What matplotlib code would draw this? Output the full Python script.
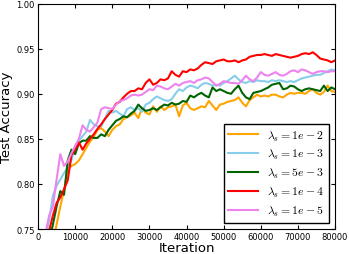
import matplotlib
matplotlib.use('Agg')
import matplotlib.pyplot as plt
import numpy as np

# iterations: every 1000 from 2000 to 80000
iters = np.arange(2000, 80001, 1000)

acc_1e2 = [0.700, 0.720, 0.735, 0.755, 0.775, 0.793, 0.816, 0.820, 0.822, 0.826,
           0.833, 0.840, 0.847, 0.852, 0.860, 0.862, 0.858, 0.853, 0.860, 0.864,
           0.866, 0.872, 0.874, 0.876, 0.879, 0.873, 0.884, 0.879, 0.877, 0.886,
           0.880, 0.886, 0.882, 0.885, 0.886, 0.888, 0.875, 0.887, 0.890, 0.884,
           0.882, 0.884, 0.886, 0.885, 0.892, 0.887, 0.882, 0.888, 0.889, 0.891,
           0.892, 0.893, 0.896, 0.890, 0.886, 0.893, 0.896, 0.899, 0.897, 0.898,
           0.897, 0.899, 0.899, 0.897, 0.896, 0.899, 0.901, 0.900, 0.901, 0.901,
           0.900, 0.903, 0.905, 0.901, 0.899, 0.902, 0.909, 0.903, 0.902]
acc_1e3 = [0.740, 0.760, 0.787, 0.798, 0.805, 0.812, 0.818, 0.826, 0.842, 0.848,
           0.853, 0.858, 0.871, 0.866, 0.864, 0.864, 0.872, 0.881, 0.879, 0.881,
           0.878, 0.875, 0.883, 0.885, 0.882, 0.884, 0.880, 0.888, 0.890, 0.894,
           0.897, 0.895, 0.893, 0.892, 0.894, 0.900, 0.905, 0.903, 0.907, 0.909,
           0.908, 0.906, 0.910, 0.912, 0.911, 0.909, 0.910, 0.909, 0.912, 0.914,
           0.917, 0.920, 0.916, 0.913, 0.912, 0.914, 0.913, 0.915, 0.914, 0.914,
           0.913, 0.915, 0.914, 0.915, 0.914, 0.913, 0.914, 0.913, 0.915, 0.917,
           0.918, 0.919, 0.920, 0.921, 0.921, 0.923, 0.925, 0.927, 0.926]
acc_5e3 = [0.720, 0.735, 0.755, 0.775, 0.792, 0.788, 0.826, 0.838, 0.833, 0.845,
           0.848, 0.848, 0.853, 0.851, 0.851, 0.855, 0.853, 0.860, 0.865, 0.870,
           0.872, 0.875, 0.874, 0.878, 0.881, 0.888, 0.884, 0.881, 0.882, 0.884,
           0.882, 0.885, 0.888, 0.887, 0.890, 0.888, 0.889, 0.892, 0.891, 0.898,
           0.896, 0.899, 0.901, 0.898, 0.896, 0.907, 0.903, 0.905, 0.903, 0.901,
           0.900, 0.905, 0.909, 0.901, 0.896, 0.894, 0.901, 0.902, 0.903, 0.905,
           0.907, 0.910, 0.911, 0.912, 0.905, 0.906, 0.909, 0.908, 0.905, 0.903,
           0.905, 0.906, 0.905, 0.904, 0.903, 0.909, 0.903, 0.907, 0.905]
acc_1e4 = [0.720, 0.748, 0.765, 0.779, 0.785, 0.794, 0.804, 0.832, 0.838, 0.846,
           0.838, 0.845, 0.850, 0.855, 0.861, 0.866, 0.872, 0.877, 0.882, 0.889,
           0.891, 0.896, 0.900, 0.903, 0.903, 0.906, 0.905, 0.912, 0.916, 0.910,
           0.912, 0.916, 0.915, 0.917, 0.925, 0.921, 0.919, 0.925, 0.924, 0.927,
           0.926, 0.928, 0.932, 0.935, 0.934, 0.933, 0.936, 0.937, 0.938, 0.936,
           0.936, 0.937, 0.935, 0.937, 0.938, 0.941, 0.942, 0.943, 0.943, 0.944,
           0.943, 0.942, 0.944, 0.943, 0.942, 0.941, 0.940, 0.941, 0.942, 0.944,
           0.945, 0.944, 0.946, 0.943, 0.939, 0.938, 0.937, 0.935, 0.937]
acc_1e5 = [0.745, 0.765, 0.775, 0.805, 0.833, 0.820, 0.825, 0.834, 0.842, 0.850,
           0.865, 0.860, 0.858, 0.863, 0.868, 0.883, 0.885, 0.884, 0.883, 0.888,
           0.892, 0.893, 0.895, 0.898, 0.899, 0.898, 0.899, 0.902, 0.905, 0.904,
           0.909, 0.908, 0.906, 0.905, 0.908, 0.911, 0.909, 0.912, 0.913, 0.914,
           0.912, 0.915, 0.916, 0.918, 0.917, 0.913, 0.909, 0.911, 0.914, 0.913,
           0.912, 0.912, 0.911, 0.915, 0.920, 0.916, 0.914, 0.918, 0.924, 0.921,
           0.920, 0.922, 0.924, 0.921, 0.920, 0.922, 0.925, 0.926, 0.924, 0.927,
           0.926, 0.924, 0.922, 0.924, 0.925, 0.925, 0.924, 0.925, 0.925]

labels = [r'$\lambda_s=1e-2$', r'$\lambda_s=1e-3$', r'$\lambda_s=5e-3$',
          r'$\lambda_s=1e-4$', r'$\lambda_s=1e-5$']
colors = ['orange', 'skyblue', 'darkgreen', 'red', 'violet']
series = [acc_1e2, acc_1e3, acc_5e3, acc_1e4, acc_1e5]

plt.rcParams['mathtext.fontset'] = 'cm'
fig = plt.figure(figsize=(3.49, 2.55), dpi=100)
ax = fig.add_axes([0.109, 0.098, 0.851, 0.884])
for y, c, l in zip(series, colors, labels):
    ax.plot(iters, y, color=c, lw=1.5, label=l)

ax.set_xlim(0, 80000)
ax.set_ylim(0.75, 1.0)
ax.set_xticks(range(0, 80001, 10000))
ax.set_yticks([0.75, 0.80, 0.85, 0.90, 0.95, 1.00])
ax.tick_params(direction='in', top=True, right=True, labelsize=6, length=3, pad=2.5)
ax.set_xlabel('Iteration', fontsize=9.5, labelpad=0)
ax.set_ylabel('Test Accuracy', fontsize=9.5, labelpad=2)
leg = ax.legend(loc='lower right', fontsize=8.5, fancybox=False, framealpha=1,
                handlelength=2.5, borderaxespad=0.5, labelspacing=0.42)
leg.get_frame().set_edgecolor('black')
fig.savefig('out.png', dpi=100)
